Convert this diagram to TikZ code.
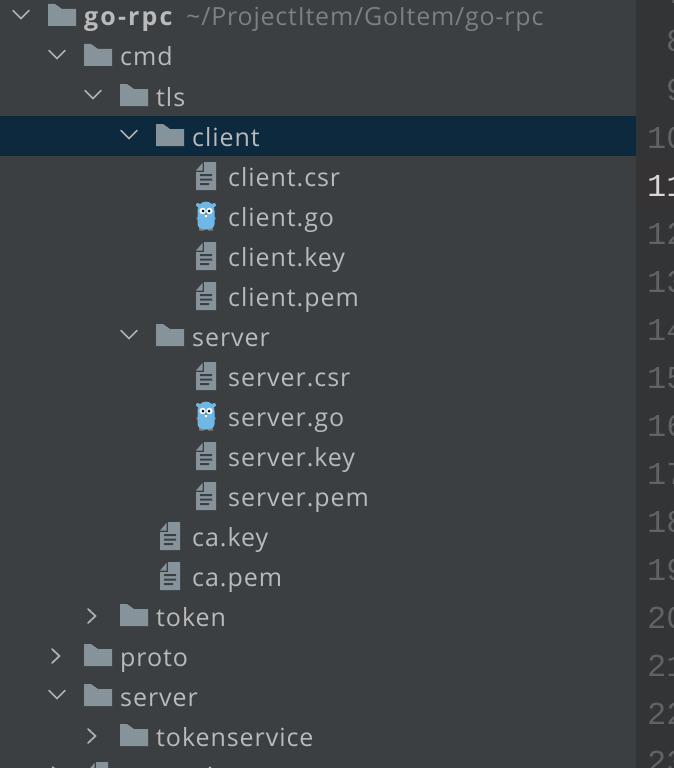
\documentclass[tikz,border=0pt]{standalone}
\usepackage{fontspec}
\setmainfont[LetterSpace=3.8]{Open Sans}
\newfontfamily\gutterfont{Liberation Mono}
\definecolor{panelbg}{HTML}{3C3F41}
\definecolor{editorbg}{HTML}{333436}
\definecolor{currentbg}{HTML}{353333}
\definecolor{selectbg}{HTML}{0D293E}
\definecolor{icongray}{HTML}{87939A}
\definecolor{labelgray}{HTML}{B8BABC}
\definecolor{pathgray}{HTML}{7D7F81}
\definecolor{chevgray}{HTML}{AFB1B3}
\definecolor{linegray}{HTML}{606366}
\definecolor{linewhite}{HTML}{D8D8D8}
\definecolor{gopherblue}{HTML}{6FB8E6}
\definecolor{gopherfoot}{HTML}{8A7A6A}
\tikzset{
  rowlabel/.style={anchor=base west, inner sep=0pt, text=labelgray, font=\fontsize{25}{30}\selectfont},
  linenum/.style={anchor=base west, inner sep=0pt, text=linegray, font=\gutterfont\fontsize{32}{36}\selectfont},
  chevron/.style={draw=chevgray, line width=1.7pt, line cap=round, line join=miter},
  pics/folderdown/.style={code={
    \draw[chevron] (-35,-6.5) -- (-27,1.5) -- (-19,-6.5);
    \fill[icongray] (0,-13) -- (7,-13) -- (14,-8) -- (28,-8) -- (28,9) -- (0,9) -- cycle;
  }},
  pics/folderright/.style={code={
    \draw[chevron] (-32,-8) -- (-24.5,-1) -- (-32,6);
    \fill[icongray] (0,-13) -- (7,-13) -- (14,-8) -- (28,-8) -- (28,9) -- (0,9) -- cycle;
  }},
  pics/docfile/.style={code={
    \fill[icongray] (8,-15) -- (20,-15) -- (20,13) -- (0,13) -- (0,-5) -- (8,-5) -- cycle;
    \fill[icongray] (0,-6.5) -- (6.5,-14) -- (6.5,-6.5) -- cycle;
    \fill[panelbg] (4,-3) rectangle (16,-1) (4,1.5) rectangle (16,3.5) (4,6) rectangle (13,8);
  }},
  pics/gopher/.style={code={
    \fill[gopherfoot] (0.5,0) rectangle (3,2.5) (17,0) rectangle (19.5,2.5);
    \fill[gopherfoot] (3,10) rectangle (8,13.5) (12,10) rectangle (17,13.5);
    \fill[gopherblue] (2,-12) circle (2) (18,-12) circle (2);
    \fill[gopherblue] (1.5,-6) .. controls (1.5,-18.5) and (18.5,-18.5) .. (18.5,-6) -- (18.5,7) .. controls (18.5,14.5) and (1.5,14.5) .. (1.5,7) -- cycle;
    \fill[white] (6.6,-6) circle (3.2) (13.4,-6) circle (3.2);
    \fill[black] (7,-6) circle (1.5) (13,-6) circle (1.5);
    \fill[gopherfoot] (8.7,-4) rectangle (11.3,-2.5);
    \fill[white] (9,-2.5) rectangle (11,-0.5);
  }},
}
\begin{document}
\begin{tikzpicture}[x=1pt, y=-1pt]
        \useasboundingbox (0,0) rectangle (674,768);
        \clip (0,0) rectangle (674,768);

        % Panels
        \fill[panelbg] (0,0) rectangle (636,768);
        \fill[editorbg] (636,0) rectangle (674,768);
        \fill[currentbg] (636,160) rectangle (674,208);
        \fill[selectbg] (0,116) rectangle (636,156);

        % Line numbers
        \node[linenum] (num7) at (666,4) {7};
        \node[linenum] (num8) at (666,52) {8};
        \node[linenum] (num9) at (666,100) {9};
        \node[linenum] (num10) at (647,148) {10};
        \node[linenum, text=linewhite] (num11) at (647,196) {11};
        \node[linenum] (num12) at (647,244) {12};
        \node[linenum] (num13) at (647,292) {13};
        \node[linenum] (num14) at (647,340) {14};
        \node[linenum] (num15) at (647,388) {15};
        \node[linenum] (num16) at (647,436) {16};
        \node[linenum] (num17) at (647,484) {17};
        \node[linenum] (num18) at (647,532) {18};
        \node[linenum] (num19) at (647,580) {19};
        \node[linenum] (num20) at (647,628) {20};
        \node[linenum] (num21) at (647,676) {21};
        \node[linenum] (num22) at (647,724) {22};
        \node[linenum] (num23) at (647,772) {23};

        % Folders
        \pic at (48,17) {folderdown};
        \pic at (84,57) {folderdown};
        \pic at (120,97) {folderdown};
        \pic at (156,137) {folderdown};
        \pic at (156,337) {folderdown};
        \pic at (120,617) {folderright};
        \pic at (84,657) {folderright};
        \pic at (84,697) {folderdown};
        \pic at (120,737) {folderright};

        % Files
        \pic at (196,177) {docfile};
        \pic at (196,217) {gopher};
        \pic at (196,257) {docfile};
        \pic at (196,297) {docfile};
        \pic at (196,377) {docfile};
        \pic at (196,417) {gopher};
        \pic at (196,457) {docfile};
        \pic at (196,497) {docfile};
        \pic at (160,537) {docfile};
        \pic at (160,577) {docfile};

        % Cut off at the bottom edge
        \pic at (88,777) {docfile};
        \draw[chevron] (52.5,767) -- (60,774);
        \fill[labelgray] (210,768) circle (1.6);

        % Labels
        \node[rowlabel, font=\fontsize{25}{30}\selectfont\bfseries\addfontfeature{LetterSpace=8.5}] (gorpc) at (84,26) {go-rpc};
        \node[rowlabel, text=pathgray, font=\fontsize{25}{30}\selectfont\addfontfeature{LetterSpace=3.2}] (gopath) at (186,26) {\textasciitilde/ProjectItem/GoItem/go-rpc};
        \node[rowlabel] (cmd) at (120,66) {cmd};
        \node[rowlabel] (tls) at (156,106) {tls};
        \node[rowlabel] (client) at (192,146) {client};
        \node[rowlabel] (clientcsr) at (228,186) {client.csr};
        \node[rowlabel] (clientgo) at (228,226) {client.go};
        \node[rowlabel] (clientkey) at (228,266) {client.key};
        \node[rowlabel] (clientpem) at (228,306) {client.pem};
        \node[rowlabel] (server) at (192,346) {server};
        \node[rowlabel] (servercsr) at (228,386) {server.csr};
        \node[rowlabel] (servergo) at (228,426) {server.go};
        \node[rowlabel] (serverkey) at (228,466) {server.key};
        \node[rowlabel] (serverpem) at (228,506) {server.pem};
        \node[rowlabel] (cakey) at (192,546) {ca.key};
        \node[rowlabel] (capem) at (192,586) {ca.pem};
        \node[rowlabel] (token) at (156,626) {token};
        \node[rowlabel] (proto) at (120,666) {proto};
        \node[rowlabel] (serverdir) at (120,706) {server};
        \node[rowlabel] (tokenservice) at (156,746) {tokenservice};
    \end{tikzpicture}
\end{document}
